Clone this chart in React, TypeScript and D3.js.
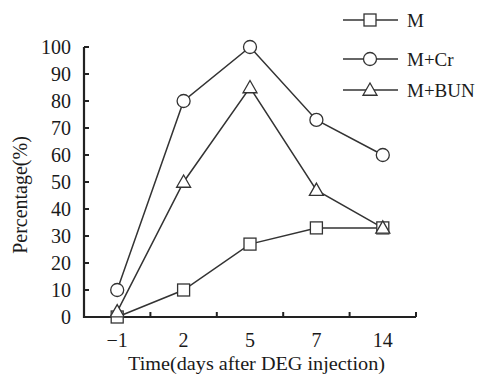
import { useRef, useEffect } from 'react';
import * as d3 from 'd3';

const WIDTH = 479;
const HEIGHT = 377;

const categories = ['-1', '2', '5', '7', '14'];
const tickLabels = ['\u22121', '2', '5', '7', '14'];
const yTicks = [0, 10, 20, 30, 40, 50, 60, 70, 80, 90, 100];

const seriesM = [0, 10, 27, 33, 33];
const seriesCr = [10, 80, 100, 73, 60];
const seriesBun = [2, 50, 85, 47, 33];

const seriesNames = ['M', 'M+Cr', 'M+BUN'];
const seriesShapes = ['square', 'circle', 'triangle'];

const FONT = '"Liberation Serif", "Times New Roman", serif';
const INK = '#1a1a1a';

function drawMarker(
  g: d3.Selection<SVGGElement, unknown, null, undefined>,
  shape: string,
  cx: number,
  cy: number,
) {
  if (shape === 'square') {
    g.append('rect')
      .attr('x', cx - 6)
      .attr('y', cy - 6)
      .attr('width', 12)
      .attr('height', 12)
      .attr('fill', '#fff')
      .attr('stroke', '#333')
      .attr('stroke-width', 1.3);
  } else if (shape === 'circle') {
    g.append('circle')
      .attr('cx', cx)
      .attr('cy', cy)
      .attr('r', 6.5)
      .attr('fill', '#fff')
      .attr('stroke', '#333')
      .attr('stroke-width', 1.3);
  } else {
    const s = 7;
    g.append('path')
      .attr('d', `M${cx},${cy - s} L${cx + s},${cy + s * 0.75} L${cx - s},${cy + s * 0.75} Z`)
      .attr('fill', '#fff')
      .attr('stroke', '#333')
      .attr('stroke-width', 1.3);
  }
}

export default function App() {
  const svgRef = useRef<SVGSVGElement>(null);

  useEffect(() => {
    const svg = d3.select(svgRef.current);
    svg.selectAll('*').remove();

    const x = d3.scaleBand().domain(categories).range([84, 416]);
    const y = d3.scaleLinear().domain([0, 100]).range([317, 47]);
    const cx = (c: string) => (x(c) ?? 0) + x.bandwidth() / 2;

    svg.append('rect').attr('width', WIDTH).attr('height', HEIGHT).attr('fill', '#fff');

    // Axes
    const axes = svg.append('g').attr('stroke', '#222').attr('fill', 'none');
    axes.append('path')
      .attr('d', `M${x.range()[0]},${y(100)} V${y(0)} H${x.range()[1]}`)
      .attr('stroke-width', 2.2);
    yTicks.forEach((t) => {
      axes.append('line')
        .attr('x1', 84).attr('x2', 89)
        .attr('y1', y(t)).attr('y2', y(t))
        .attr('stroke-width', 2);
    });
    categories.forEach((c) => {
      const bx = (x(c) ?? 0) + x.bandwidth();
      axes.append('line')
        .attr('x1', bx).attr('x2', bx)
        .attr('y1', y(0)).attr('y2', y(0) - 5)
        .attr('stroke-width', 2);
    });

    // Y tick labels
    yTicks.forEach((t) => {
      svg.append('text')
        .attr('x', 71)
        .attr('y', y(t) + 6.5)
        .attr('text-anchor', 'end')
        .attr('font-family', FONT)
        .attr('font-size', 20)
        .attr('fill', INK)
        .text(t);
    });

    // X tick labels
    categories.forEach((c, i) => {
      svg.append('text')
        .attr('x', cx(c))
        .attr('y', 347)
        .attr('text-anchor', 'middle')
        .attr('font-family', FONT)
        .attr('font-size', 20)
        .attr('fill', INK)
        .text(tickLabels[i]);
    });

    // Axis titles
    svg.append('text')
      .attr('x', 128)
      .attr('y', 370)
      .attr('font-family', FONT)
      .attr('font-size', 19)
      .attr('fill', INK)
      .attr('textLength', 257)
      .attr('lengthAdjust', 'spacingAndGlyphs')
      .text('Time(days after DEG injection)');
    svg.append('text')
      .attr('transform', `translate(27,195) rotate(-90)`)
      .attr('text-anchor', 'middle')
      .attr('font-family', FONT)
      .attr('font-size', 20)
      .attr('fill', INK)
      .text('Percentage(%)');

    // Series
    const all = [seriesM, seriesCr, seriesBun];
    const line = d3
      .line<number>()
      .x((_, i) => cx(categories[i]))
      .y((d) => y(d));
    all.forEach((vals) => {
      svg.append('path')
        .attr('d', line(vals))
        .attr('fill', 'none')
        .attr('stroke', '#333')
        .attr('stroke-width', 1.5);
    });
    const marks = svg.append('g');
    all.forEach((vals, si) => {
      vals.forEach((v, i) => drawMarker(marks, seriesShapes[si], cx(categories[i]), y(v)));
    });

    // Legend
    const legendY = [20, 59, 90];
    const lg = svg.append('g');
    seriesNames.forEach((name, i) => {
      lg.append('line')
        .attr('x1', 343).attr('x2', 398)
        .attr('y1', legendY[i]).attr('y2', legendY[i])
        .attr('stroke', '#333')
        .attr('stroke-width', 1.5);
      drawMarker(lg, seriesShapes[i], 370, legendY[i]);
      lg.append('text')
        .attr('x', 407)
        .attr('y', legendY[i] + 6.5)
        .attr('font-family', FONT)
        .attr('font-size', 19)
        .attr('fill', INK)
        .text(name);
    });
  }, []);

  return (
    <svg
      ref={svgRef}
      width={WIDTH}
      height={HEIGHT}
      style={{ position: 'absolute', left: 0, top: 0 }}
    />
  );
}
